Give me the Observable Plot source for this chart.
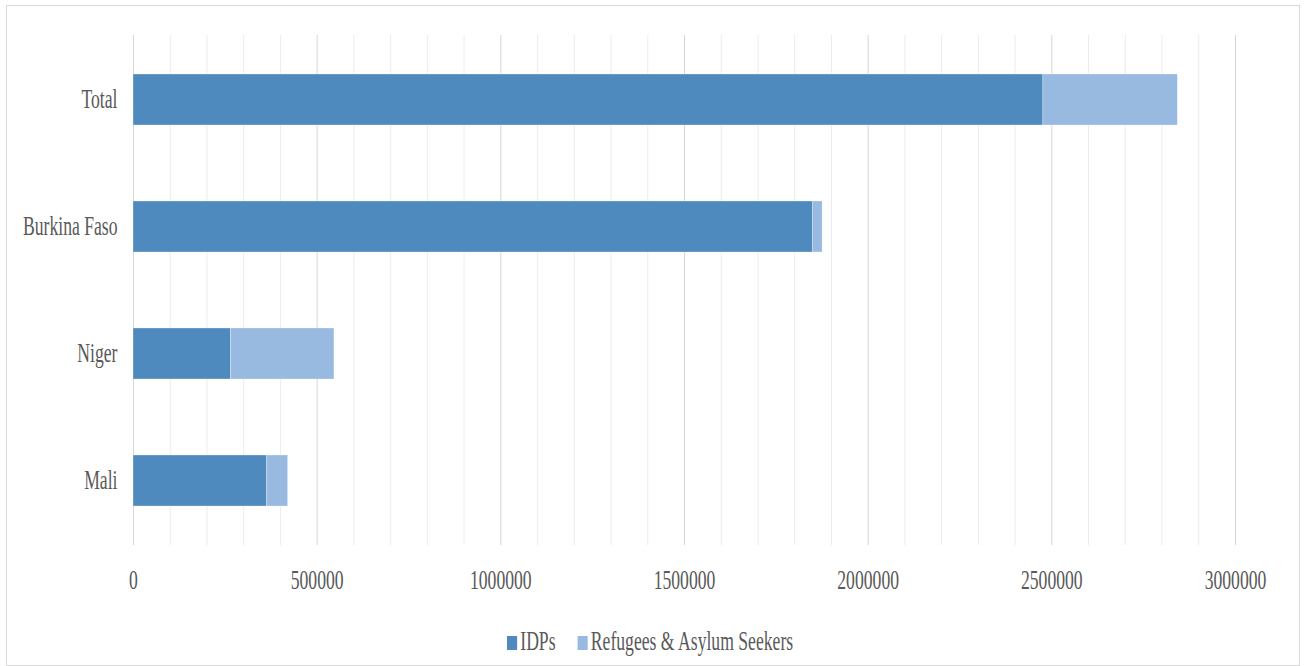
<!DOCTYPE html>
<html>
<head>
<meta charset="utf-8">
<script src="https://cdn.jsdelivr.net/npm/d3@7"></script>
<script src="https://cdn.jsdelivr.net/npm/@observablehq/plot@0.6"></script>
<style>
  html, body { margin: 0; padding: 0; background: #fff; }
  body { width: 1306px; height: 666px; position: relative; overflow: hidden; font-family: "Liberation Serif", "Times New Roman", serif; }
  #frame { position: absolute; left: 6px; top: 5px; width: 1292px; height: 659px; border: 1px solid #d9d9d9; }
  #chart { position: absolute; left: 0; top: 0; }
  #legend { position: absolute; left: -3px; top: 618px; width: 1292px; text-align: center; }
  #legend .inner { display: inline-block; transform: scaleX(0.63); transform-origin: center; white-space: nowrap; font-size: 28px; line-height: 30px; color: #595959; font-family: "Liberation Serif", "Times New Roman", serif; }
  #legend .item { display: inline-flex; align-items: center; }
  #legend .sw { display: inline-block; width: 16px; height: 14px; margin-right: 5px; position: relative; top: 2px; }
  #legend .gap { display: inline-block; width: 35px; }
</style>
</head>
<body>
<div id="frame">
  <div id="chart"></div>
  <div id="legend"></div>
</div>
<script>
const categories = ["Total", "Burkina Faso", "Niger", "Mali"];
const seriesNames = ["IDPs", "Refugees & Asylum Seekers"];
const idps = [2477000, 1850000, 265000, 364000];
const refugees = [366000, 26000, 282000, 57000];
const xTicks = [0, 500000, 1000000, 1500000, 2000000, 2500000, 3000000];
const colors = ["#4F8ABE", "#98B9E0"];

const data = [];
categories.forEach((c, i) => {
  data.push({category: c, series: seriesNames[0], value: idps[i]});
  data.push({category: c, series: seriesNames[1], value: refugees[i]});
});

const minorTicks = d3.range(0, 3000001, 100000).filter(v => !xTicks.includes(v));

const plot = Plot.plot({
  width: 1292,
  height: 600,
  marginLeft: 126,
  marginRight: 64,
  marginTop: 29,
  marginBottom: 61,
  style: {fontFamily: "'Liberation Serif', 'Times New Roman', serif", fontSize: "28px", color: "#595959", background: "transparent"},
  x: {domain: [0, 3000000], ticks: xTicks, tickFormat: d => String(d), label: null},
  y: {domain: categories, paddingInner: 0.6, paddingOuter: 0.3, label: null},
  color: {domain: seriesNames, range: colors},
  marks: [
    Plot.ruleX(minorTicks, {stroke: "#ececec", strokeWidth: 1}),
    Plot.ruleX(xTicks, {stroke: "#d6d6d6", strokeWidth: 1}),
    Plot.barX(data, Plot.stackX({x: "value", y: "category", fill: "series", order: null, stroke: "#ffffff", strokeWidth: 0.6, strokeOpacity: 0.5})),
    Plot.axisX({ticks: xTicks, tickFormat: d => String(d), tickSize: 0, tickPadding: 24, label: null, fill: "#595959"}),
    Plot.axisY({tickSize: 0, tickPadding: 16, label: null, fill: "#595959", dy: -1})
  ]
});
document.getElementById("chart").appendChild(plot);

// horizontally condense the serif text like the reference
d3.select(plot).selectAll("text").each(function() {
  const t = this.getAttribute("transform");
  if (t) {
    this.setAttribute("transform", t + " scale(0.63,1)");
  } else {
    const x = +this.getAttribute("x") || 0, y = +this.getAttribute("y") || 0;
    this.removeAttribute("x"); this.removeAttribute("y");
    this.setAttribute("transform", `translate(${x},${y}) scale(0.63,1)`);
  }
});

const legend = document.getElementById("legend");
const inner = document.createElement("span");
inner.className = "inner";
seriesNames.forEach((s, i) => {
  if (i > 0) { const g = document.createElement("span"); g.className = "gap"; inner.appendChild(g); }
  const item = document.createElement("span"); item.className = "item";
  const sw = document.createElement("span"); sw.className = "sw"; sw.style.background = colors[i];
  const lb = document.createElement("span"); lb.textContent = s;
  item.appendChild(sw); item.appendChild(lb);
  inner.appendChild(item);
});
legend.appendChild(inner);
</script>
</body>
</html>
